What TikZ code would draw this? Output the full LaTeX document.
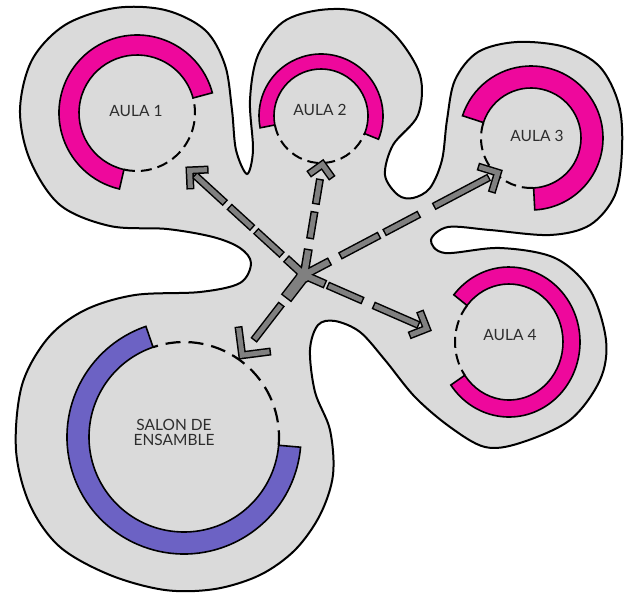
\documentclass[tikz,border=0pt]{standalone}
\usepackage{fontspec}
\setmainfont{Lato}
\usetikzlibrary{calc}
\definecolor{blobgray}{RGB}{218,218,218}
\definecolor{pinkc}{RGB}{238,8,156}
\definecolor{purplec}{RGB}{108,98,196}
\definecolor{arrowgray}{RGB}{128,128,128}
\definecolor{txtc}{RGB}{45,45,45}
\tikzset{
  blob/.style={fill=blobgray,draw=black,line width=2pt},
  ringpink/.style={fill=pinkc,draw=black,line width=1.6pt},
  ringpurple/.style={fill=purplec,draw=black,line width=1.6pt},
  doorline/.style={draw=black,line width=2pt,dash pattern=on 11pt off 6pt},
  doorlinebig/.style={draw=black,line width=2.2pt,dash pattern=on 15pt off 8pt},
  lbl/.style={text=txtc,font=\fontsize{15.5}{15}\selectfont,inner sep=0pt},
}
\newcommand\asegK[5]{\draw[black,line width=#5pt+3pt] ($(#1)!#3pt-1.5pt!(#2)$) -- ($(#1)!#4pt+1.5pt!(#2)$);}
\newcommand\asegG[5]{\draw[arrowgray,line width=#5pt] ($(#1)!#3pt!(#2)$) -- ($(#1)!#4pt!(#2)$);}
\newcommand\achevK[3]{\coordinate (chi) at ($(#1)!7.07pt!(#2)$);
  \filldraw[black,line width=3pt,line join=miter] (#1) -- ($(#1)!#3pt!45:(#2)$) -- ($(chi)!#3pt-5pt!45:(#2)$) -- (chi) -- ($(chi)!#3pt-5pt!-45:(#2)$) -- ($(#1)!#3pt!-45:(#2)$) -- cycle;}
\newcommand\achevG[3]{\coordinate (chi) at ($(#1)!7.07pt!(#2)$);
  \fill[arrowgray] (#1) -- ($(#1)!#3pt!45:(#2)$) -- ($(chi)!#3pt-5pt!45:(#2)$) -- (chi) -- ($(chi)!#3pt-5pt!-45:(#2)$) -- ($(#1)!#3pt!-45:(#2)$) -- cycle;}
\newcommand\arrowdata{%
  \myseg{c}{t1}{0}{23}{6}\myseg{c}{t1}{31}{64}{5}\myseg{c}{t1}{71}{100}{5}\myseg{c}{t1}{108}{147}{5}\mychev{t1}{c}{20}%
  \myseg{c}{t2}{0}{25}{6}\myseg{c}{t2}{38}{63}{5}\myseg{c}{t2}{73}{96}{5}\mychev{t2}{c}{18}%
  \myseg{c}{t3}{0}{28}{6}\myseg{c}{t3}{42}{84}{5}\myseg{c}{t3}{92}{129}{5}\myseg{c}{t3}{148}{208}{5}\mychev{t3}{c}{22}%
  \myseg{c}{t4}{0}{22}{6}\myseg{c}{t4}{27}{63}{5}\myseg{c}{t4}{77}{124}{5}\mychev{t4}{c}{20}%
  \myseg{c}{t5}{0}{28}{10}\myseg{c}{t5}{38}{81}{5}\mychev{t5}{c}{30}%
}
\begin{document}
\begin{tikzpicture}[x=1pt,y=-1pt]
\useasboundingbox (0,0) rectangle (625,595);
% outer blob
\draw[blob] plot[smooth cycle,tension=0.55] coordinates {
 (20,110) (32,60) (65,25) (115,8) (165,10) (205,30) (225,65) (232,110) (236,150)
 (247,174) (253,150) (250,100) (258,55) (283,22) (320,10) (360,12) (395,35) (420,75)
 (418,115) (393,145) (385,175) (398,195) (413,198) (430,188) (442,160) (447,120)
 (455,80) (478,52) (517,42) (565,47) (600,67) (619,105) (622,150) (615,195) (590,225)
 (550,235) (490,230) (448,227) (431,240) (445,253) (500,248) (555,258) (590,290)
 (606,340) (600,380) (570,420) (520,443) (485,447) (450,427) (415,397) (385,360)
 (360,332) (335,321) (318,325) (310,350) (315,392) (330,430) (333,475) (320,515)
 (295,550) (260,575) (215,589) (165,590) (110,575) (60,547) (30,505) (16,450)
 (22,385) (48,338) (85,310) (135,295) (200,292) (240,283) (251,263) (240,248)
 (213,237) (167,229) (110,226) (60,205) (30,160)};
% centres
\coordinate (a1c) at (137,113);
\coordinate (a2c) at (321,116);
\coordinate (a3c) at (531,138);
\coordinate (a4c) at (509,342);
\coordinate (sc)  at (184,437);
% AULA 1
\filldraw[ringpink] ($(a1c)+(-15:78)$) arc[start angle=-15,end angle=-257,radius=78]
  -- ($(a1c)+(-257:58)$) arc[start angle=-257,end angle=-15,radius=58] -- cycle;
\draw[doorline] ($(a1c)+(-257:58)$) arc[start angle=-257,end angle=-375,radius=58];
% AULA 2
\filldraw[ringpink] ($(a2c)+(22:62)$) arc[start angle=22,end angle=-191,radius=62]
  -- ($(a2c)+(-191:47)$) arc[start angle=-191,end angle=22,radius=47] -- cycle;
\draw[doorline] ($(a2c)+(-191:47)$) arc[start angle=-191,end angle=-338,radius=47];
% AULA 3
\filldraw[ringpink] ($(a3c)+(87:72)$) arc[start angle=87,end angle=-162,radius=72]
  -- ($(a3c)+(-162:50)$) arc[start angle=-162,end angle=87,radius=50] -- cycle;
\draw[doorline] ($(a3c)+(-162:50)$) arc[start angle=-162,end angle=-273,radius=50];
% AULA 4
\filldraw[ringpink] ($(a4c)+({71*cos(145)},{75*sin(145)})$) arc[start angle=145,end angle=-141,x radius=71,y radius=75]
  -- ($(a4c)+({54*cos(-141)},{58*sin(-141)})$) arc[start angle=-141,end angle=145,x radius=54,y radius=58] -- cycle;
\draw[doorline] ($(a4c)+({54*cos(-141)},{58*sin(-141)})$) arc[start angle=-141,end angle=-215,x radius=54,y radius=58];
% SALON
\filldraw[ringpurple] ($(sc)+(-109:117)$) arc[start angle=-109,end angle=-355,radius=117]
  -- ($(sc)+(-355:95)$) arc[start angle=-355,end angle=-109,radius=95] -- cycle;
\draw[doorlinebig] ($(sc)+(5:95)$) arc[start angle=5,end angle=-109,radius=95];
% labels
\node[lbl] (a1) at (136,111) {AULA 1};
\node[lbl] (a2) at (320,110) {AULA 2};
\node[lbl] (a3) at (537,136) {AULA 3};
\node[lbl] (a4) at (510,335) {AULA 4};
\node[lbl,align=center] (sal) at (174,432) {SALON DE\\ENSAMBLE};
% arrows
\coordinate (c) at (304,275);
\coordinate (t1) at (187,168);
\coordinate (t2) at (323,161);
\coordinate (t3) at (501,171);
\coordinate (t4) at (430,330);
\coordinate (t5) at (240,358);
\let\myseg\asegK \let\mychev\achevK
\fill[black] (c) circle[radius=8pt];
\arrowdata
\let\myseg\asegG \let\mychev\achevG
\fill[arrowgray] (c) circle[radius=6.5pt];
\arrowdata
\end{tikzpicture}
\end{document}
